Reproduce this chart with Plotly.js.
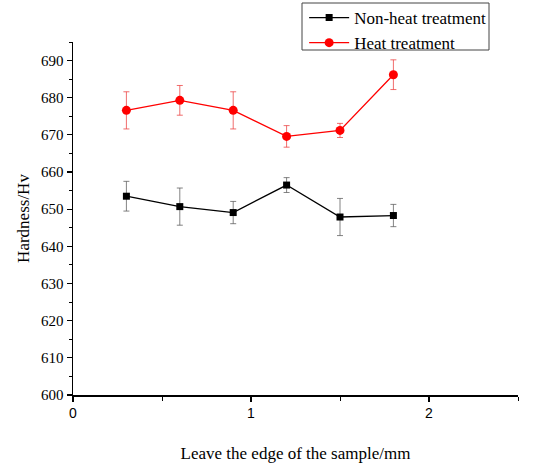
<!DOCTYPE html>
<html>
<head>
<meta charset="utf-8">
<script src="https://cdn.plot.ly/plotly-3.0.1.min.js"></script>
<style>html,body{margin:0;padding:0;background:#fff;}#chart{width:548px;height:463px;}</style>
</head>
<body>
<div id="chart"></div>
<script>
var distance = [0.3, 0.6, 0.9, 1.2, 1.5, 1.8];
var nonHeat = [653.5, 650.7, 649.1, 656.5, 647.9, 648.3];
var nonHeatErr = [4.0, 5.0, 3.0, 2.0, 5.0, 3.0];
var heat = [676.6, 679.3, 676.6, 669.6, 671.2, 686.2];
var heatErr = [5.0, 4.0, 5.0, 2.9, 1.9, 4.0];
var seriesNames = ["Non-heat treatment", "Heat treatment"];

var serif = "Liberation Serif, Times New Roman, serif";
var sans = "Liberation Sans, Arial, sans-serif";

var traces = [
  {
    x: distance, y: nonHeat, name: seriesNames[0], type: "scatter", mode: "lines+markers",
    line: {color: "#000000", width: 1.3},
    marker: {symbol: "square", size: 7, color: "#000000"},
    error_y: {type: "data", array: nonHeatErr, visible: true, color: "rgba(90,90,90,0.75)", thickness: 1, width: 3}
  },
  {
    x: distance, y: heat, name: seriesNames[1], type: "scatter", mode: "lines+markers",
    line: {color: "#ff0000", width: 1.3},
    marker: {symbol: "circle", size: 9, color: "#ff0000"},
    error_y: {type: "data", array: heatErr, visible: true, color: "rgba(235,60,60,0.75)", thickness: 1, width: 3}
  }
];

var layout = {
  width: 548, height: 463,
  margin: {l: 73, r: 30, t: 42, b: 68, autoexpand: false},
  paper_bgcolor: "#ffffff", plot_bgcolor: "#ffffff",
  showlegend: true,
  legend: {
    xref: "container", yref: "container",
    x: 0.555, y: 1.01, xanchor: "left", yanchor: "top",
    bgcolor: "rgba(0,0,0,0)", borderwidth: 0,
    font: {family: serif, size: 17, color: "#000000"},
    itemwidth: 40, tracegroupgap: 0
  },
  shapes: [{
    type: "rect", xref: "paper", yref: "paper",
    x0: (302 - 73) / 445, x1: (489 - 73) / 445,
    y0: (395 - 50) / 353, y1: (395 - 3) / 353,
    line: {color: "#444444", width: 1}, fillcolor: "rgba(0,0,0,0)", layer: "below"
  }],
  xaxis: {
    range: [0, 2.5], tickvals: [0, 1, 2], ticktext: ["0", "1", "2"],
    showgrid: false, zeroline: false, showline: true, linecolor: "#000000", linewidth: 1.5,
    ticks: "outside", ticklen: 5, tickwidth: 1.2, tickcolor: "#000000",
    tickfont: {family: sans, size: 14, color: "#000000"},
    minor: {tickvals: [0.5, 1.5, 2.5], ticks: "outside", ticklen: 4, tickwidth: 1, tickcolor: "#000000", showgrid: false},
    title: {text: "Leave the edge of the sample/mm", font: {family: serif, size: 17, color: "#000000"}, standoff: 29}
  },
  yaxis: {
    range: [600, 695], tickvals: [600, 610, 620, 630, 640, 650, 660, 670, 680, 690],
    showgrid: false, zeroline: false, showline: true, linecolor: "#000000", linewidth: 1.5,
    ticks: "outside", ticklen: 5, tickwidth: 1.2, tickcolor: "#000000",
    tickfont: {family: serif, size: 15, color: "#000000"},
    minor: {dtick: 5, ticks: "outside", ticklen: 3, tickwidth: 1, tickcolor: "#000000", showgrid: false},
    title: {text: "Hardness/Hv", font: {family: serif, size: 17, color: "#000000"}, standoff: 7}
  }
};

Plotly.newPlot("chart", traces, layout, {displayModeBar: false, staticPlot: true});
</script>
</body>
</html>
